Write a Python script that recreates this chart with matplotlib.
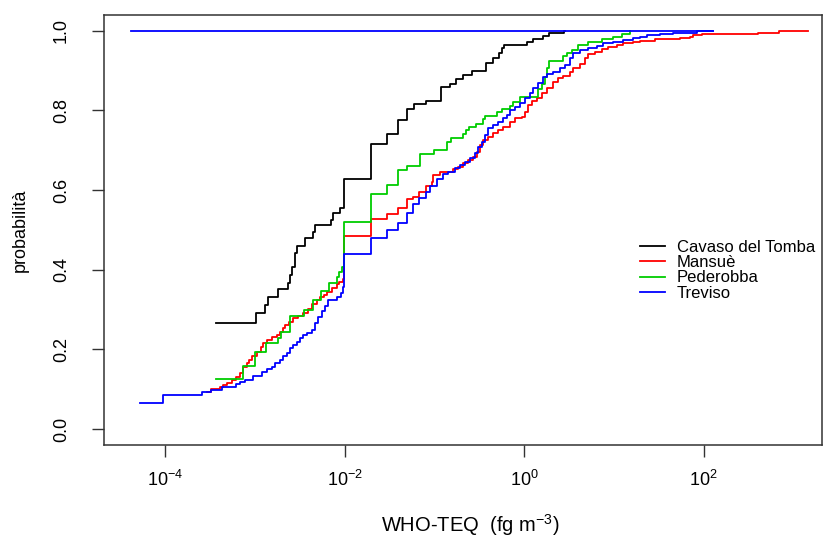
import matplotlib
matplotlib.use("Agg")
import matplotlib.pyplot as plt
import numpy as np

plt.rcParams['font.family'] = ['Liberation Sans', 'DejaVu Sans']
plt.rcParams['mathtext.fontset'] = 'custom'
plt.rcParams['mathtext.rm'] = 'Liberation Sans'
plt.rcParams['mathtext.it'] = 'Liberation Sans:italic'
plt.rcParams['mathtext.default'] = 'regular'

# dati: log10(WHO-TEQ) ai salti e probabilita cumulata
cav_lx = [-3.437, -2.988, -2.885, -2.858, -2.740, -2.635, -2.609, -2.584, -2.557, -2.528,
          -2.446, -2.350, -2.331, -2.153, -2.134, -2.052, -2.004, -1.710, -1.525, -1.409,
          -1.309, -1.225, -1.097, -0.924, -0.827, -0.763, -0.679, -0.578, -0.429, -0.344,
          -0.277, -0.251, -0.222, 0.028, 0.095, 0.213, 0.280, 0.447]
cav_p = [0.267, 0.290, 0.311, 0.332, 0.352, 0.367, 0.387, 0.407, 0.441, 0.459,
         0.479, 0.495, 0.511, 0.525, 0.542, 0.554, 0.628, 0.716, 0.740, 0.776,
         0.803, 0.815, 0.824, 0.858, 0.866, 0.879, 0.889, 0.900, 0.920, 0.931,
         0.943, 0.956, 0.964, 0.971, 0.979, 0.987, 0.993, 1.0]
cav_end = 0.455

man_lx = [-3.538, -3.493, -3.389, -3.353, -3.308, -3.259, -3.211, -3.167, -3.130, -3.092,
          -3.063, -3.036, -2.981, -2.933, -2.907, -2.862, -2.813, -2.758, -2.721, -2.691,
          -2.665, -2.617, -2.573, -2.517, -2.461, -2.406, -2.368, -2.312, -2.275, -2.231,
          -2.194, -2.145, -2.089, -2.060, -2.022, -2.004, -1.710, -1.525, -1.409, -1.309,
          -1.236, -1.169, -1.094, -1.031, -1.013, -0.938, -0.790, -0.734, -0.679, -0.623,
          -0.567, -0.529, -0.492, -0.456, -0.400, -0.344, -0.289, -0.233, -0.158, -0.103,
          -0.028, 0.009, 0.046, 0.084, 0.139, 0.195, 0.251, 0.324, 0.380, 0.436,
          0.510, 0.547, 0.622, 0.677, 0.714, 0.789, 0.864, 0.937, 1.031, 1.104,
          1.216, 1.290, 1.457, 1.736, 1.847, 1.877, 1.978, 2.608, 2.842]
man_p = [0.094, 0.100, 0.106, 0.110, 0.116, 0.122, 0.131, 0.140, 0.156, 0.165,
         0.173, 0.183, 0.194, 0.207, 0.215, 0.223, 0.230, 0.236, 0.244, 0.253,
         0.261, 0.269, 0.278, 0.284, 0.292, 0.301, 0.314, 0.324, 0.331, 0.336,
         0.343, 0.353, 0.364, 0.370, 0.376, 0.485, 0.527, 0.540, 0.554, 0.577,
         0.583, 0.596, 0.610, 0.621, 0.638, 0.645, 0.653, 0.659, 0.667, 0.675,
         0.684, 0.696, 0.713, 0.726, 0.734, 0.742, 0.751, 0.759, 0.772, 0.780,
         0.784, 0.797, 0.813, 0.824, 0.830, 0.843, 0.855, 0.872, 0.880, 0.887,
         0.897, 0.906, 0.916, 0.931, 0.941, 0.947, 0.954, 0.960, 0.964, 0.968,
         0.972, 0.975, 0.978, 0.981, 0.985, 0.989, 0.991, 0.995, 1.0]
man_end = 3.166

ped_lx = [-3.437, -3.136, -2.999, -2.880, -2.740, -2.713, -2.609, -2.453, -2.350, -2.264,
          -2.178, -2.082, -2.060, -2.027, -2.004, -1.710, -1.525, -1.409, -1.309, -1.161,
          -1.002, -0.860, -0.816, -0.679, -0.648, -0.615, -0.537, -0.456, -0.437, -0.306,
          -0.251, -0.158, -0.121, -0.047, 0.157, 0.195, 0.226, 0.251, 0.276, 0.436,
          0.474, 0.533, 0.599, 0.711, 0.864, 0.993, 1.086, 1.179]
ped_p = [0.126, 0.158, 0.193, 0.215, 0.228, 0.244, 0.284, 0.299, 0.324, 0.346,
         0.367, 0.382, 0.395, 0.407, 0.520, 0.589, 0.613, 0.649, 0.661, 0.690,
         0.700, 0.721, 0.730, 0.741, 0.751, 0.759, 0.766, 0.778, 0.787, 0.796,
         0.803, 0.812, 0.820, 0.834, 0.854, 0.866, 0.885, 0.906, 0.925, 0.936,
         0.943, 0.952, 0.963, 0.972, 0.978, 0.985, 0.992, 1.0]
ped_end = 1.179

tre_lx = [-4.281, -4.028, -3.593, -3.493, -3.370, -3.211, -3.167, -3.111, -3.018, -2.925,
          -2.869, -2.813, -2.777, -2.721, -2.684, -2.646, -2.609, -2.573, -2.535, -2.498,
          -2.461, -2.423, -2.368, -2.331, -2.294, -2.256, -2.220, -2.183, -2.089, -2.045,
          -2.016, -2.004, -1.710, -1.525, -1.409, -1.309, -1.236, -1.169, -1.094, -1.050,
          -0.975, -0.901, -0.846, -0.771, -0.715, -0.660, -0.604, -0.548, -0.511, -0.474,
          -0.437, -0.400, -0.344, -0.289, -0.233, -0.195, -0.158, -0.103, -0.047, 0.009,
          0.065, 0.101, 0.157, 0.213, 0.251, 0.324, 0.399, 0.455, 0.510, 0.547,
          0.622, 0.714, 0.808, 0.881, 0.993, 1.104, 1.216, 1.290, 1.365, 1.513,
          1.661, 1.922]
tre_p = [0.065, 0.085, 0.094, 0.099, 0.105, 0.113, 0.119, 0.123, 0.133, 0.144,
         0.150, 0.156, 0.166, 0.173, 0.182, 0.192, 0.203, 0.211, 0.219, 0.228,
         0.236, 0.242, 0.249, 0.265, 0.282, 0.295, 0.309, 0.324, 0.332, 0.341,
         0.357, 0.439, 0.479, 0.500, 0.518, 0.542, 0.565, 0.579, 0.596, 0.610,
         0.628, 0.639, 0.646, 0.655, 0.663, 0.671, 0.680, 0.692, 0.709, 0.721,
         0.738, 0.755, 0.763, 0.772, 0.780, 0.788, 0.801, 0.809, 0.818, 0.830,
         0.843, 0.855, 0.868, 0.885, 0.891, 0.897, 0.906, 0.914, 0.931, 0.943,
         0.952, 0.957, 0.962, 0.968, 0.972, 0.977, 0.981, 0.983, 0.989, 0.992,
         0.995, 1.0]
tre_end = 2.107
tre_top = [-4.381, 2.107]   # linea blu a probabilita 1

series = [
    ("Cavaso del Tomba", cav_lx, cav_p, cav_end, "black"),
    ("Mansuè", man_lx, man_p, man_end, "#ff0000"),
    ("Pederobba", ped_lx, ped_p, ped_end, "#00cd00"),
    ("Treviso", tre_lx, tre_p, tre_end, "#0000ff"),
]

fig = plt.figure(figsize=(8.24, 5.38), dpi=100)
ax = fig.add_axes([0.1262, 0.1729, 0.8714, 0.7992])

for name, lx, p, end, col in series:
    x = 10 ** np.append(lx, end)
    y = np.append(p, p[-1])
    ax.step(x, y, where='post', color=col, lw=1.3, label=name)

ax.plot(10 ** np.array(tre_top), [1.0, 1.0], color="#0000ff", lw=1.3)

ax.set_xscale('log')
ax.set_xlim(10 ** -4.682, 10 ** 3.317)
ax.set_ylim(-0.0402, 1.0394)
ax.set_xticks([1e-4, 1e-2, 1e0, 1e2])
ax.xaxis.set_minor_locator(matplotlib.ticker.NullLocator())
ax.set_yticks([0, 0.2, 0.4, 0.6, 0.8, 1.0])
ax.set_yticklabels(["0.0", "0.2", "0.4", "0.6", "0.8", "1.0"], rotation=90, va='center')
ax.tick_params(axis='both', length=8.6, width=1, labelsize=13, color='#333333')
ax.tick_params(axis='x', pad=9)
ax.tick_params(axis='y', pad=16)
for s in ax.spines.values():
    s.set_color('#333333')
    s.set_linewidth(1.1)

fig.text(20 / 824, 1 - 230 / 538, "probabilità", rotation=90, ha='center', va='center', fontsize=13)
fig.text(470 / 824, 1 - 532 / 538, r"WHO-TEQ  (fg m$^{-3}$)", ha='center', va='baseline', fontsize=14.5)

ax.legend(loc='upper left', bbox_to_anchor=(640 / 824, 1 - 240 / 538), bbox_transform=fig.transFigure,
          frameon=False, fontsize=12, handlelength=1.52, handletextpad=0.68, labelspacing=0.01,
          borderpad=0, borderaxespad=0)

fig.savefig("out.png", dpi=100)
